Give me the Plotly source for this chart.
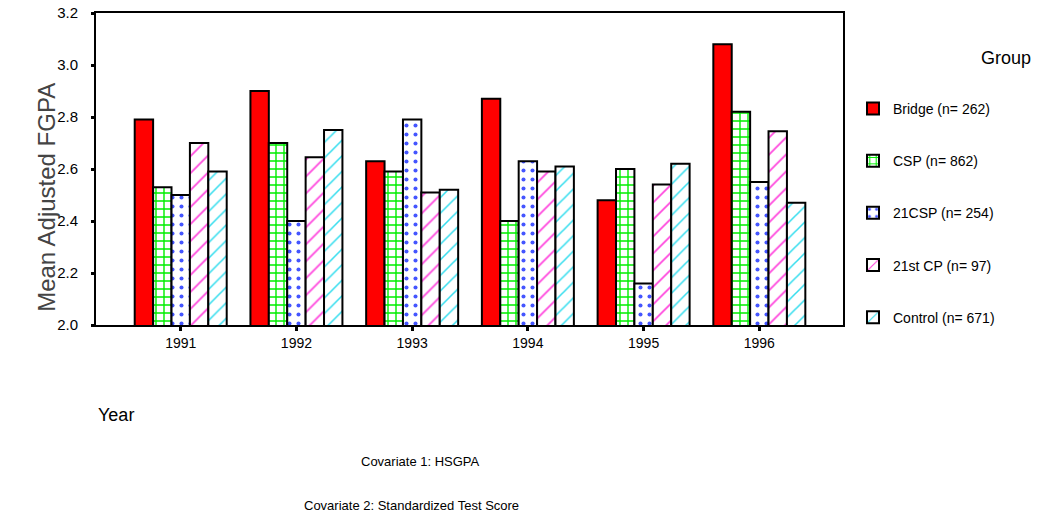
import plotly.graph_objects as go

# Mean adjusted first-year GPA by cohort year and program group
years = ["1991", "1992", "1993", "1994", "1995", "1996"]

groups = ["Bridge (n= 262)", "CSP (n= 862)", "21CSP (n= 254)",
          "21st CP (n= 97)", "Control (n= 671)"]

bridge = [2.79, 2.90, 2.63, 2.87, 2.48, 3.08]
csp = [2.53, 2.70, 2.59, 2.40, 2.60, 2.82]
csp21 = [2.50, 2.40, 2.79, 2.63, 2.16, 2.55]
cp21st = [2.70, 2.645, 2.51, 2.59, 2.54, 2.745]
control = [2.59, 2.75, 2.52, 2.61, 2.62, 2.47]

series = [bridge, csp, csp21, cp21st, control]

# fill style per group: (shape, foreground, background, size, solidity)
styles = [
    ("", "#ff0000", "#ff0000", 8, 0.3),
    ("+", "#00ee00", "white", 8, 0.32),
    (".", "#4455ff", "white", 9, 0.16),
    ("/", "#ff44dd", "white", 12, 0.14),
    ("/", "#33ddee", "white", 11, 0.14),
]

FONT = "Liberation Sans, Arial, sans-serif"

fig = go.Figure()
for name, vals, (shape, fg, bg, size, sol) in zip(groups, series, styles):
    fig.add_trace(go.Bar(
        x=years, y=vals, name=name, legendgroup=name,
        marker=dict(
            color=bg if shape else fg,
            line=dict(color="black", width=2),
            pattern=dict(shape=shape, fgcolor=fg, bgcolor=bg, size=size,
                         solidity=sol, fillmode="replace"),
        ),
    ))

fig.update_layout(
    width=1038, height=516,
    margin=dict(l=96, r=195, t=13, b=191, autoexpand=False),
    paper_bgcolor="white", plot_bgcolor="white",
    barmode="group", bargap=0.205, bargroupgap=0,
    font=dict(family=FONT, color="black", size=14),
    showlegend=True,
    legend=dict(
        x=1.0134, xanchor="left", y=0.744, yanchor="top",
        font=dict(size=14, family=FONT, color="black"),
        tracegroupgap=31, bgcolor="rgba(0,0,0,0)",
        traceorder="grouped",
    ),
)

fig.update_xaxes(
    type="category", range=[-0.732, 5.723], automargin=False,
    showline=True, linecolor="black", linewidth=2, mirror=True,
    ticks="outside", ticklen=4, tickwidth=3, tickcolor="black",
    tickfont=dict(size=14, family=FONT), showgrid=False,
)
fig.update_yaxes(
    range=[2.0, 3.2], tickvals=[2.0, 2.2, 2.4, 2.6, 2.8, 3.0, 3.2],
    ticktext=["2.0", "2.2", "2.4", "2.6", "2.8", "3.0", "3.2"],
    automargin=False, ticklabelstandoff=10,
    showline=True, linecolor="black", linewidth=2, mirror=True,
    ticks="outside", ticklen=3, tickwidth=3, tickcolor="black",
    tickfont=dict(size=15, family=FONT), showgrid=False, zeroline=False,
)

# axis titles, legend heading and covariate notes
fig.add_annotation(text="Mean Adjusted FGPA", xref="paper", yref="paper",
                   x=-0.088, y=0.41, textangle=-90, showarrow=False,
                   font=dict(size=24, family=FONT, color="#444444"))
fig.add_annotation(text="Year", xref="paper", yref="paper",
                   x=0.0, y=-0.288, xanchor="left", yanchor="middle",
                   showarrow=False,
                   font=dict(size=18, family=FONT, color="black"))
fig.add_annotation(text="Group", xref="paper", yref="paper",
                   x=1.255, y=0.856, xanchor="right", yanchor="middle",
                   showarrow=False,
                   font=dict(size=18, family=FONT, color="black"))
fig.add_annotation(text="Covariate 1: HSGPA", xref="paper", yref="paper",
                   x=0.434, y=-0.439, yanchor="middle", showarrow=False,
                   font=dict(size=13, family=FONT, color="black"))
fig.add_annotation(text="Covariate 2: Standardized Test Score", xref="paper",
                   yref="paper", x=0.422, y=-0.577, yanchor="middle",
                   showarrow=False,
                   font=dict(size=13, family=FONT, color="black"))

fig.write_html("out.html")
